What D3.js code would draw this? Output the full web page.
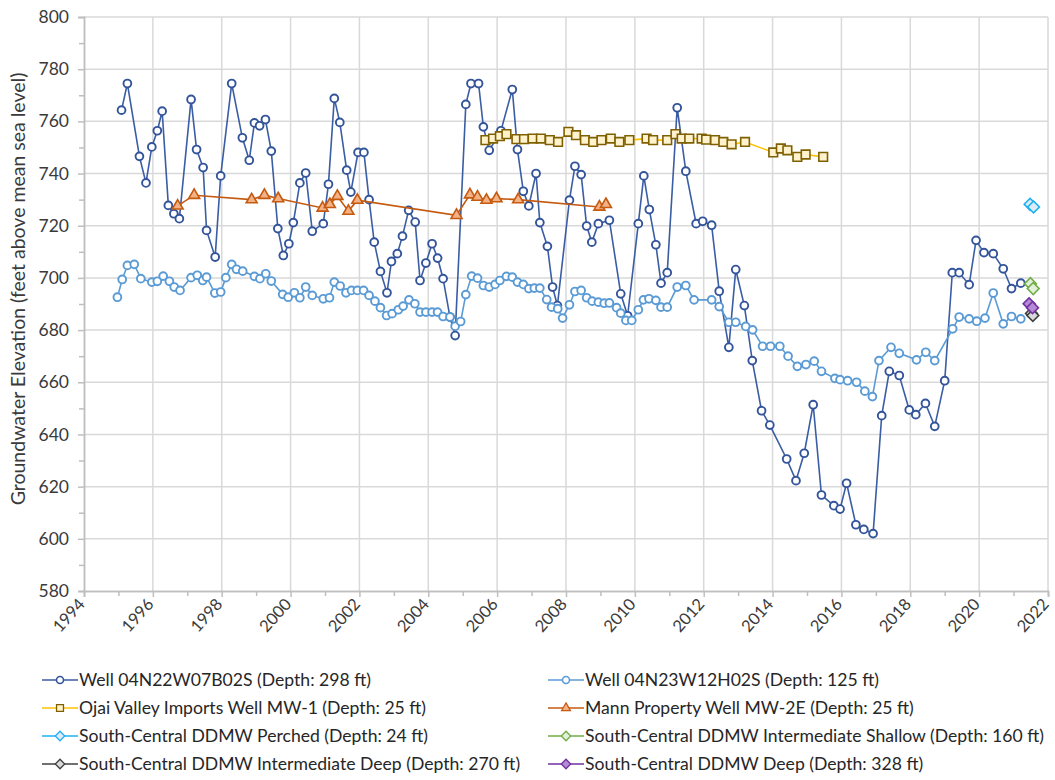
<!DOCTYPE html>
<html>
<head>
<meta charset="utf-8">
<script src="https://cdn.jsdelivr.net/npm/d3@7"></script>
<style>
  body { margin: 0; background: #fff; }
  text { font-family: Lato, "Open Sans", sans-serif; }
</style>
</head>
<body>
<script>
// [decimal year, elevation ft]
var well04N22 = [
  [1995.09, 764.3], [1995.26, 774.5], [1995.61, 746.6], [1995.80, 736.4], [1995.97, 750.2],
  [1996.13, 756.4], [1996.27, 763.9], [1996.45, 727.8], [1996.61, 724.6], [1996.77, 722.7],
  [1997.11, 768.4], [1997.27, 749.2], [1997.46, 742.3], [1997.56, 718.2], [1997.81, 708.0],
  [1997.97, 739.1], [1998.29, 774.5], [1998.60, 753.7], [1998.80, 745.1], [1998.95, 759.4],
  [1999.10, 758.3], [1999.27, 760.7], [1999.44, 748.6], [1999.63, 718.9], [1999.79, 708.6],
  [1999.95, 713.1], [2000.08, 721.2], [2000.27, 736.4], [2000.44, 740.2], [2000.63, 717.9],
  [2000.95, 720.8], [2001.10, 735.9], [2001.27, 768.8], [2001.43, 759.6], [2001.63, 741.3],
  [2001.75, 732.9], [2001.96, 748.1], [2002.13, 748.1], [2002.28, 730.0], [2002.43, 713.7],
  [2002.61, 702.5], [2002.80, 694.3], [2002.93, 706.3], [2003.10, 709.3], [2003.25, 716.0],
  [2003.43, 725.9], [2003.62, 721.4], [2003.76, 699.0], [2003.93, 705.7], [2004.11, 713.1],
  [2004.27, 707.6], [2004.43, 699.7], [2004.63, 685.0], [2004.78, 677.9], [2005.09, 766.5],
  [2005.24, 774.5], [2005.46, 774.5], [2005.60, 757.9], [2005.77, 748.9], [2006.11, 756.4],
  [2006.44, 772.2], [2006.59, 749.2], [2006.76, 733.2], [2006.92, 727.6], [2007.13, 740.0],
  [2007.24, 721.2], [2007.46, 712.1], [2007.61, 696.5], [2007.75, 689.4], [2008.10, 729.8],
  [2008.26, 742.8], [2008.44, 739.6], [2008.60, 719.9], [2008.75, 713.7], [2008.94, 720.8],
  [2009.26, 722.1], [2009.59, 693.9], [2009.79, 685.5], [2010.10, 720.8], [2010.26, 739.1],
  [2010.42, 726.2], [2010.61, 712.7], [2010.76, 698.0], [2010.94, 702.0], [2011.23, 765.2],
  [2011.48, 740.9], [2011.78, 720.8], [2011.97, 721.7], [2012.23, 720.2], [2012.45, 694.9],
  [2012.73, 673.4], [2012.93, 703.2], [2013.18, 689.4], [2013.41, 668.3], [2013.68, 649.1],
  [2013.92, 643.6], [2014.41, 630.6], [2014.68, 622.3], [2014.92, 632.8], [2015.18, 651.4],
  [2015.42, 616.8], [2015.78, 612.7], [2015.96, 611.4], [2016.15, 621.3], [2016.42, 605.4],
  [2016.65, 603.6], [2016.92, 602.0], [2017.17, 647.2], [2017.39, 664.2], [2017.68, 662.6],
  [2017.97, 649.4], [2018.16, 647.6], [2018.44, 651.9], [2018.71, 643.1], [2019.00, 660.6],
  [2019.22, 702.0], [2019.42, 702.0], [2019.71, 697.4], [2019.91, 714.4], [2020.14, 709.7],
  [2020.41, 709.3], [2020.70, 703.5], [2020.94, 695.9], [2021.21, 698.0]
];

var well04N23 = [
  [1994.97, 692.6], [1995.11, 699.4], [1995.26, 704.8], [1995.46, 705.2], [1995.65, 699.7],
  [1995.97, 698.4], [1996.13, 698.7], [1996.30, 700.7], [1996.48, 698.7], [1996.62, 696.5],
  [1996.79, 695.2], [1997.11, 700.1], [1997.29, 701.0], [1997.45, 699.0], [1997.56, 700.3],
  [1997.80, 694.2], [1997.97, 694.6], [1998.12, 700.1], [1998.29, 705.2], [1998.43, 703.3],
  [1998.61, 702.6], [1998.95, 700.6], [1999.11, 699.7], [1999.28, 701.6], [1999.44, 698.8],
  [1999.77, 693.7], [1999.93, 692.6], [2000.11, 694.3], [2000.27, 692.4], [2000.44, 696.5],
  [2000.63, 693.3], [2000.95, 692.0], [2001.13, 692.4], [2001.27, 698.4], [2001.44, 696.9],
  [2001.61, 694.3], [2001.77, 695.2], [2001.94, 695.2], [2002.12, 695.2], [2002.28, 693.3],
  [2002.45, 691.1], [2002.61, 688.6], [2002.79, 685.6], [2002.95, 686.3], [2003.13, 687.8],
  [2003.27, 689.2], [2003.44, 691.6], [2003.61, 690.1], [2003.76, 686.9], [2003.93, 686.9],
  [2004.11, 686.9], [2004.27, 686.9], [2004.43, 685.2], [2004.63, 685.0], [2004.78, 681.5],
  [2004.94, 683.3], [2005.09, 693.6], [2005.26, 700.7], [2005.43, 699.9], [2005.60, 697.1],
  [2005.77, 696.5], [2005.94, 697.5], [2006.08, 699.0], [2006.27, 700.6], [2006.44, 700.3],
  [2006.59, 698.4], [2006.76, 697.5], [2006.92, 695.9], [2007.08, 696.1], [2007.24, 696.1],
  [2007.44, 691.7], [2007.58, 688.8], [2007.76, 688.2], [2007.90, 684.6], [2008.10, 689.7],
  [2008.26, 694.8], [2008.44, 695.2], [2008.60, 692.4], [2008.76, 691.1], [2008.94, 690.7],
  [2009.11, 690.3], [2009.26, 690.4], [2009.47, 688.6], [2009.59, 686.5], [2009.74, 683.7],
  [2009.91, 683.7], [2010.10, 687.8], [2010.25, 691.6], [2010.41, 692.0], [2010.61, 691.4],
  [2010.76, 688.8], [2010.94, 688.8], [2011.23, 696.5], [2011.48, 697.1], [2011.72, 691.6],
  [2012.23, 691.6], [2012.45, 689.0], [2012.73, 683.0], [2012.93, 683.0], [2013.22, 681.4],
  [2013.42, 680.1], [2013.71, 673.8], [2013.94, 673.8], [2014.21, 673.8], [2014.45, 670.0],
  [2014.72, 666.1], [2014.97, 666.8], [2015.21, 668.1], [2015.42, 664.2], [2015.81, 661.5],
  [2015.96, 661.0], [2016.18, 660.6], [2016.44, 660.0], [2016.68, 656.6], [2016.90, 654.5],
  [2017.09, 668.3], [2017.44, 673.4], [2017.68, 671.1], [2018.18, 668.6], [2018.45, 671.5],
  [2018.71, 668.3], [2019.23, 680.5], [2019.42, 685.0], [2019.71, 684.3], [2019.93, 683.4],
  [2020.17, 684.6], [2020.41, 694.2], [2020.70, 682.4], [2020.94, 685.2], [2021.21, 684.3]
];

var ojaiMW1 = [
  [2005.66, 752.8], [2005.88, 753.4], [2006.08, 754.3], [2006.27, 755.1], [2006.56, 753.2],
  [2006.78, 753.2], [2007.03, 753.4], [2007.27, 753.4], [2007.53, 752.8], [2007.77, 752.1],
  [2008.07, 756.0], [2008.29, 754.7], [2008.55, 752.8], [2008.79, 752.1], [2009.03, 752.8],
  [2009.30, 753.4], [2009.55, 752.1], [2009.84, 752.8], [2010.34, 753.4], [2010.53, 752.8],
  [2010.94, 752.8], [2011.18, 755.1], [2011.36, 753.4], [2011.58, 753.4], [2011.94, 753.4],
  [2012.07, 753.0], [2012.33, 752.8], [2012.57, 752.1], [2012.81, 751.2], [2013.20, 752.1],
  [2014.02, 748.1], [2014.24, 749.6], [2014.43, 748.9], [2014.72, 746.4], [2014.96, 747.3],
  [2015.47, 746.4]
];

var mannMW2E = [
  [1996.72, 727.6], [1997.20, 731.7], [1998.87, 730.0], [1999.24, 731.7], [1999.64, 730.4],
  [2000.93, 726.8], [2001.14, 728.2], [2001.36, 731.3], [2001.68, 725.6], [2001.94, 729.8],
  [2004.82, 724.0], [2005.21, 731.9], [2005.43, 731.0], [2005.69, 729.8], [2005.98, 730.4],
  [2006.61, 730.0], [2008.97, 727.2], [2009.16, 728.2]
];

var ddmwPerched = [[2021.48, 728.2], [2021.58, 727.2]];
var ddmwIntShallow = [[2021.49, 697.8], [2021.57, 695.9]];
var ddmwIntDeep = [[2021.52, 686.4], [2021.56, 685.6]];
var ddmwDeep = [[2021.45, 690.1], [2021.55, 688.6]];

var yearTicks = d3.range(1994, 2023, 2);
var elevTicks = d3.range(580, 801, 20);

var series = [
  { name: "Well 04N22W07B02S (Depth: 298 ft)", data: well04N22, line: "#3a5da4", stroke: "#33549a", fill: "#fff", shape: "circle" },
  { name: "Well 04N23W12H02S (Depth: 125 ft)", data: well04N23, line: "#5b9bd5", stroke: "#5b9bd5", fill: "#fff", shape: "circle" },
  { name: "Ojai Valley Imports Well MW-1 (Depth: 25 ft)", data: ojaiMW1, line: "#ffc000", stroke: "#7f6000", fill: "#fff2cc", shape: "square" },
  { name: "Mann Property Well MW-2E (Depth: 25 ft)", data: mannMW2E, line: "#c55a11", stroke: "#c55a11", fill: "#f4b183", shape: "triangle" },
  { name: "South-Central DDMW Perched (Depth: 24 ft)", data: ddmwPerched, line: "#1fb0f0", stroke: "#1fb0f0", fill: "#deebf7", shape: "diamond" },
  { name: "South-Central DDMW Intermediate Shallow (Depth: 160 ft)", data: ddmwIntShallow, line: "#70ad47", stroke: "#70ad47", fill: "#e2efda", shape: "diamond" },
  { name: "South-Central DDMW Intermediate Deep (Depth: 270 ft)", data: ddmwIntDeep, line: "#404040", stroke: "#404040", fill: "#d9d9d9", shape: "diamond" },
  { name: "South-Central DDMW Deep (Depth: 328 ft)", data: ddmwDeep, line: "#7030a0", stroke: "#7030a0", fill: "#b48ad6", shape: "diamond" }
];

var width = 1055,
    height = 780;

var x = d3.scaleLinear().domain([1994, 2022]).range([84, 1048]);
var y = d3.scaleLinear().domain([580, 800]).range([591, 17]);

var svg = d3.select("body").append("svg")
    .attr("width", width)
    .attr("height", height);

svg.append("rect").attr("width", width).attr("height", height).attr("fill", "#fff");

// grid
svg.append("g").selectAll("line")
    .data(elevTicks.slice(1))
  .enter().append("line")
    .attr("x1", x(1994)).attr("x2", x(2022))
    .attr("y1", function(d) { return y(d); })
    .attr("y2", function(d) { return y(d); })
    .attr("stroke", "#d9d9d9")
    .attr("stroke-width", 1.5);

svg.append("g").selectAll("line")
    .data(yearTicks.slice(1))
  .enter().append("line")
    .attr("y1", y(580)).attr("y2", y(800))
    .attr("x1", function(d) { return x(d); })
    .attr("x2", function(d) { return x(d); })
    .attr("stroke", "#d9d9d9")
    .attr("stroke-width", 1.5);

// axes
var yAxis = svg.append("g")
    .attr("transform", "translate(" + x(1994) + ",0)")
    .call(d3.axisLeft(y).tickValues(elevTicks).tickSize(6).tickPadding(9));

svg.append("g")
    .attr("transform", "translate(" + x(1994) + ",0)")
    .call(d3.axisLeft(y).tickValues(d3.range(590, 800, 20)).tickSize(5).tickFormat(""));

var xAxis = svg.append("g")
    .attr("transform", "translate(0," + y(580) + ")")
    .call(d3.axisBottom(x).tickValues(yearTicks).tickSize(6).tickFormat(d3.format("d")));

svg.append("g")
    .attr("transform", "translate(0," + y(580) + ")")
    .call(d3.axisBottom(x).tickValues(d3.range(1995, 2022, 2)).tickSize(5).tickFormat(""));

svg.selectAll(".domain").attr("stroke", "#bfbfbf").attr("stroke-width", 1.5);
svg.selectAll(".tick line").attr("stroke", "#bfbfbf").attr("stroke-width", 1.5);

yAxis.selectAll("text")
    .style("font-size", "17.5px")
    .attr("fill", "#3a3a3a");

xAxis.selectAll("text")
    .style("font-size", "16.5px")
    .attr("fill", "#3a3a3a")
    .attr("text-anchor", "end")
    .attr("dy", "0.35em")
    .attr("transform", "translate(-3,10) rotate(-48)")
    .attr("y", 0).attr("x", 0);

svg.append("text")
    .attr("transform", "translate(25,289) rotate(-90)")
    .attr("text-anchor", "middle")
    .style("font-size", "19.5px")
    .attr("fill", "#3a3a3a")
    .text("Groundwater Elevation (feet above mean sea level)");

// markers
function symbolFor(shape) {
  if (shape == "square") return d3.symbol().type(d3.symbolSquare).size(75)();
  if (shape == "triangle") return d3.symbol().type(d3.symbolTriangle).size(52)();
  if (shape == "diamond") return d3.symbol().type(d3.symbolSquare).size(70)();
  return null;
}

var line = d3.line()
    .x(function(d) { return x(d[0]); })
    .y(function(d) { return y(d[1]); });

series.forEach(function(s) {
  var g = svg.append("g");
  g.append("path")
      .datum(s.data)
      .attr("d", line)
      .attr("fill", "none")
      .attr("stroke", s.line)
      .attr("stroke-width", 1.6);

  if (s.shape == "circle") {
    g.selectAll("circle")
        .data(s.data)
      .enter().append("circle")
        .attr("cx", function(d) { return x(d[0]); })
        .attr("cy", function(d) { return y(d[1]); })
        .attr("r", 3.9)
        .attr("fill", s.fill)
        .attr("stroke", s.stroke)
        .attr("stroke-width", 1.9);
  } else {
    g.selectAll("path.mk")
        .data(s.data)
      .enter().append("path")
        .attr("class", "mk")
        .attr("d", symbolFor(s.shape))
        .attr("transform", function(d) {
          return "translate(" + x(d[0]) + "," + y(d[1]) + ")" + (s.shape == "diamond" ? " rotate(45)" : "");
        })
        .attr("fill", s.fill)
        .attr("stroke", s.stroke)
        .attr("stroke-width", 1.6);
  }
});

// legend
var legend = svg.append("g").selectAll("g")
    .data(series)
  .enter().append("g")
    .attr("transform", function(d, i) {
      return "translate(" + (i % 2 ? 548 : 42) + "," + (680 + Math.floor(i / 2) * 28) + ")";
    });

legend.append("line")
    .attr("x1", 0).attr("x2", 36)
    .attr("stroke", function(d) { return d.line; })
    .attr("stroke-width", 1.6);

legend.each(function(s) {
  var g = d3.select(this);
  if (s.shape == "circle") {
    g.append("circle").attr("cx", 18).attr("r", 3.5)
        .attr("fill", s.fill).attr("stroke", s.stroke).attr("stroke-width", 1.6);
  } else {
    g.append("path").attr("d", symbolFor(s.shape))
        .attr("transform", "translate(18,0)" + (s.shape == "diamond" ? " rotate(45)" : "") + " scale(0.8)")
        .attr("fill", s.fill).attr("stroke", s.stroke).attr("stroke-width", 1.6);
  }
});

legend.append("text")
    .attr("x", 37)
    .attr("dy", "0.35em")
    .style("font-size", "17.6px")
    .attr("fill", "#262626")
    .text(function(d) { return d.name; });
</script>
</body>
</html>
